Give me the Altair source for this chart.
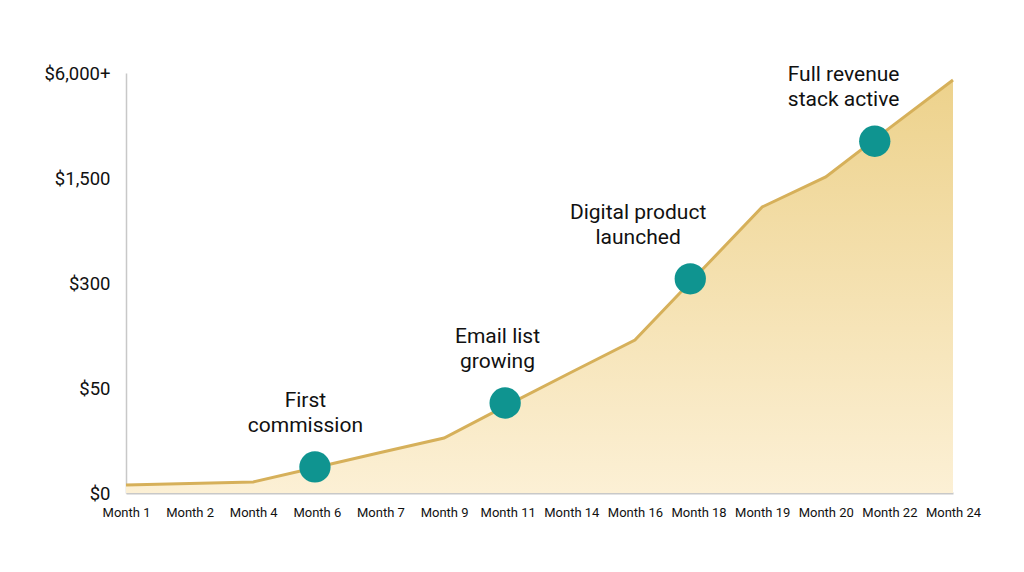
import altair as alt
import pandas as pd

# Data
months = ["Month 1", "Month 2", "Month 4", "Month 6", "Month 7", "Month 9", "Month 11",
          "Month 14", "Month 16", "Month 18", "Month 19", "Month 20", "Month 22", "Month 24"]
# revenue level on the stepped scale (0=$0, 1=$50, 2=$300, 3=$1,500, 4=$6,000+)
levels = [0.076, 0.09, 0.105, 0.246, 0.386, 0.524, 0.84,
          1.15, 1.457, 2.09, 2.724, 3.01, 3.475, 3.933]
y_labels = ["$0", "$50", "$300", "$1,500", "$6,000+"]

milestone_x = [2.97, 5.96, 8.87, 11.77]
milestone_level = [0.248, 0.857, 2.04, 3.35]
milestone_text = [["First", "commission"], ["Email list", "growing"],
                  ["Digital product", "launched"], ["Full revenue", "stack active"]]
label_x = [2.82, 5.84, 8.05, 11.28]

FONT = "Roboto"

line_df = pd.DataFrame({"idx": list(range(len(months))), "level": levels})
ms_df = pd.DataFrame({"idx": milestone_x, "level": milestone_level,
                      "lx": label_x, "text": milestone_text})

x_expr = "[" + ",".join(f"'{m}'" for m in months) + "][datum.value]"
y_expr = "[" + ",".join(f"'{l}'" for l in y_labels) + "][datum.value]"

xs = alt.Scale(domain=[0, len(months) - 1], nice=False, zero=False)
ys = alt.Scale(domain=[0, 4], nice=False)

x_axis = alt.Axis(values=list(range(len(months))), labelExpr=x_expr, title=None,
                  ticks=False, grid=False, domain=True, domainColor="#C8C8C8",
                  domainWidth=2, labelFont=FONT, labelFontSize=13, labelColor="#111111",
                  labelPadding=13, labelFlush=False, labelOverlap=False)
y_axis = alt.Axis(values=[0, 1, 2, 3, 4], labelExpr=y_expr, title=None, ticks=False,
                  grid=False, domain=True, domainColor="#C8C8C8", domainWidth=1.5,
                  labelFont=FONT, labelFontSize=18.5, labelColor="#111111",
                  labelPadding=16, labelFlush=False)

area = alt.Chart(line_df).mark_area(
    color=alt.Gradient(gradient="linear",
                       stops=[alt.GradientStop(color="#EDD28C", offset=0),
                              alt.GradientStop(color="#FCF0D5", offset=1)],
                       x1=0, x2=0, y1=0, y2=1),
    interpolate="linear"
).encode(x=alt.X("idx:Q", scale=xs, axis=x_axis), y=alt.Y("level:Q", scale=ys, axis=y_axis))

line = alt.Chart(line_df).mark_line(color="#D6B05A", strokeWidth=3).encode(
    x=alt.X("idx:Q", scale=xs), y=alt.Y("level:Q", scale=ys))

dots = alt.Chart(ms_df).mark_circle(color="#0F9490", opacity=1, size=980).encode(
    x=alt.X("idx:Q", scale=xs), y=alt.Y("level:Q", scale=ys))

labels = alt.Chart(ms_df).mark_text(font=FONT, fontSize=21, color="#111111",
                                    align="center", baseline="middle", dy=-66,
                                    lineHeight=25).encode(
    x=alt.X("lx:Q", scale=xs), y=alt.Y("level:Q", scale=ys), text="text")

chart = alt.layer(area, line, dots, labels).properties(
    width=827, height=420, background="white",
    padding={"left": 126, "top": 73, "right": 71, "bottom": 79},
    autosize=alt.AutoSizeParams(type="none")
).configure_view(stroke=None)

chart.save("out.html", embed_options={"renderer": "svg", "actions": False})
